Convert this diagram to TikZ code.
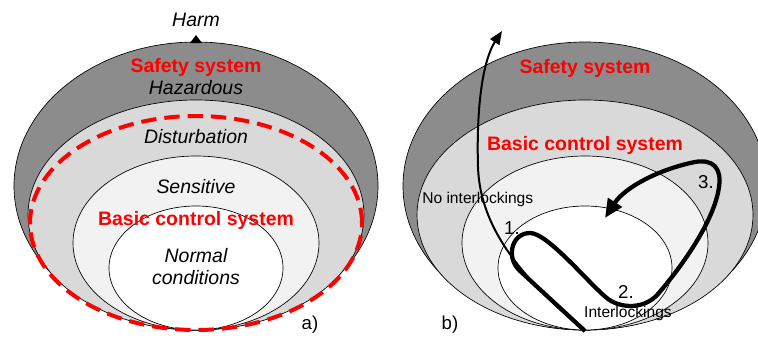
\documentclass[tikz,border=0pt]{standalone}
\usepackage{fontspec}
\setmainfont{Liberation Sans}
\usetikzlibrary{arrows.meta}
\definecolor{zoneA}{RGB}{140,140,140}
\definecolor{zoneB}{RGB}{217,217,217}
\definecolor{zoneC}{RGB}{242,242,242}
\definecolor{sysred}{RGB}{255,0,0}
\newcommand{\bowl}[1]{%
  % #1 = x of the common bottom point
  \begin{scope}[shift={(#1,0)}]
    \filldraw[fill=zoneA, draw=black, line width=0.5pt] (0,151) ellipse [x radius=182, y radius=144];
    \filldraw[fill=zoneB, draw=black, line width=0.5pt] (0,122) ellipse [x radius=168, y radius=115];
    \filldraw[fill=zoneC, draw=black, line width=0.5pt] (0,94) ellipse [x radius=123, y radius=87];
    \filldraw[fill=white, draw=black, line width=0.5pt] (0,69) ellipse [x radius=87, y radius=62];
  \end{scope}
}
\tikzset{
  zonetext/.style={font=\fontsize{14.6}{16.5}\selectfont\itshape},
  systext/.style={font=\fontsize{14.6}{16.5}\selectfont\bfseries, text=sysred},
  smalltext/.style={font=\fontsize{11.7}{14}\selectfont},
  numtext/.style={font=\fontsize{14}{16}\selectfont},
}

\begin{document}
\begin{tikzpicture}[x=0.75pt, y=0.75pt, inner sep=0pt]
\clip (0,0) rectangle (758,337);
\useasboundingbox (0,0) rectangle (758,337);

% --- a) zones and the two systems -------------------------------------------
\bowl{196}
\draw[sysred, line width=3pt, dash pattern=on 11.5pt off 6pt] (196,114) ellipse [x radius=166, y radius=107];
\fill (190,294) -- (202,294) -- (196,302) -- cycle;
\node[zonetext] (harm) at (196,317) {Harm};
\node[systext] (safetyA) at (196,270) {Safety system};
\node[zonetext] (hazardous) at (196,249) {Hazardous};
\node[zonetext] (disturbation) at (196,200) {Disturbation};
\node[zonetext] (sensitive) at (196,150) {Sensitive};
\node[systext] (basicA) at (196,117) {Basic control system};
\node[zonetext, align=center] (normal) at (196,70) {Normal\\conditions};
\node[numtext] (tagA) at (310,12) {a)};

% --- b) interlockings --------------------------------------------------------
\bowl{585}
\node[systext] (safetyB) at (585,269) {Safety system};
\node[systext] (basicB) at (585,192) {Basic control system};
\node[smalltext, anchor=west] (nointer) at (422,138) {No interlockings};
\node[smalltext] (inter) at (628,24) {Interlockings};
\node[numtext] (stepone) at (512,109) {1.};
\node[numtext] (steptwo) at (626,45) {2.};
\node[numtext] (stepthree) at (706,155) {3.};
\node[numtext] (tagB) at (450,12) {b)};

\coordinate (bottomB) at (585,6);
\coordinate (escape) at (502,306);
\coordinate (backin) at (605,119);
% no interlockings: straight out
\draw[line width=1.5pt, -{Triangle[length=10pt, width=8pt]}]
  (bottomB) .. controls (520,60) and (480,110) .. (478,170)
            .. controls (476,240) and (485,280) .. (escape);
% interlockings: caught and brought back
\draw[line width=3.2pt, line join=round, -{Triangle[length=14pt, width=12pt]}]
  (bottomB) -- (520,66)
  .. controls (505,80) and (512,104) .. (530,104)
  .. controls (548,104) and (590,52) .. (608,38)
  .. controls (622,28) and (645,28) .. (658,43)
  .. controls (688,78) and (715,120) .. (719,150)
  .. controls (722,170) and (712,178) .. (695,175)
  .. controls (660,168) and (625,150) .. (backin);

\end{tikzpicture}
\end{document}
